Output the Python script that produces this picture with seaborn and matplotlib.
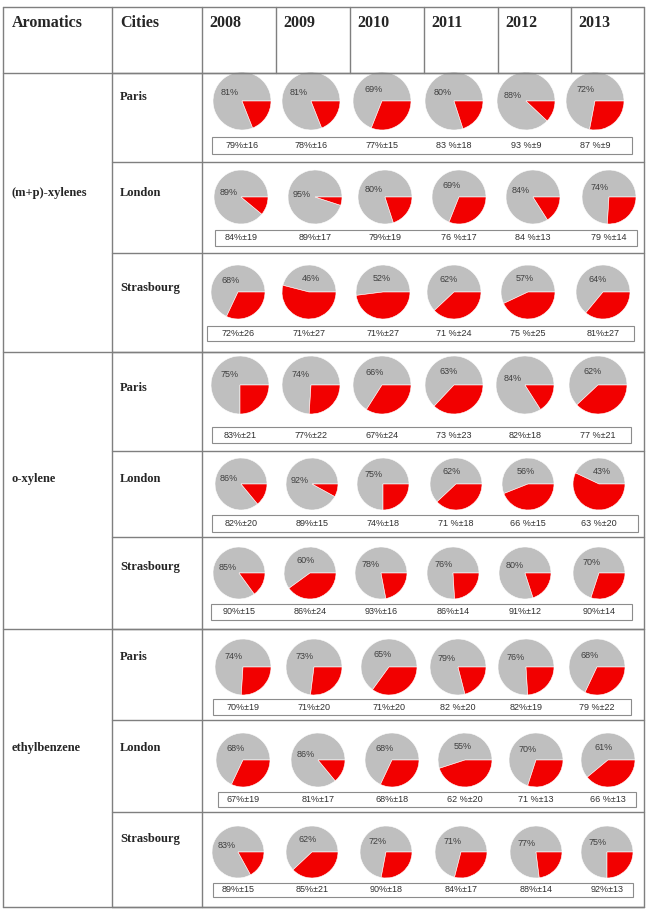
import numpy as np
import matplotlib
matplotlib.use("Agg")
import matplotlib.pyplot as plt
import seaborn as sns
from matplotlib.patches import Rectangle

sns.set_style("white")

# ---------------- data ----------------
compounds = ["(m+p)-xylenes", "o-xylene", "ethylbenzene"]
cities = ["Paris", "London", "Strasbourg"]
years = ["2008", "2009", "2010", "2011", "2012", "2013"]

# grey share (%) shown in each pie, rows ordered compound x city
mp_paris = [81, 81, 69, 80, 88, 72]
mp_london = [89, 95, 80, 69, 84, 74]
mp_stras = [68, 46, 52, 62, 57, 64]
ox_paris = [75, 74, 66, 63, 84, 62]
ox_london = [86, 92, 75, 62, 56, 43]
ox_stras = [85, 60, 78, 76, 80, 70]
eb_paris = [74, 73, 65, 79, 76, 68]
eb_london = [68, 86, 68, 55, 70, 61]
eb_stras = [83, 62, 72, 71, 77, 75]

# mean ± sd labels under each pie row
mp_paris_sd = ["79%±16", "78%±16", "77%±15", "83 %±18", "93 %±9", "87 %±9"]
mp_london_sd = ["84%±19", "89%±17", "79%±19", "76 %±17", "84 %±13", "79 %±14"]
mp_stras_sd = ["72%±26", "71%±27", "71%±27", "71 %±24", "75 %±25", "81%±27"]
ox_paris_sd = ["83%±21", "77%±22", "67%±24", "73 %±23", "82%±18", "77 %±21"]
ox_london_sd = ["82%±20", "89%±15", "74%±18", "71 %±18", "66 %±15", "63 %±20"]
ox_stras_sd = ["90%±15", "86%±24", "93%±16", "86%±14", "91%±12", "90%±14"]
eb_paris_sd = ["70%±19", "71%±20", "71%±20", "82 %±20", "82%±19", "79 %±22"]
eb_london_sd = ["67%±19", "81%±17", "68%±18", "62 %±20", "71 %±13", "66 %±13"]
eb_stras_sd = ["89%±15", "85%±21", "90%±18", "84%±17", "88%±14", "92%±13"]

pie_rows = [mp_paris, mp_london, mp_stras, ox_paris, ox_london, ox_stras,
            eb_paris, eb_london, eb_stras]
sd_rows = [mp_paris_sd, mp_london_sd, mp_stras_sd, ox_paris_sd, ox_london_sd,
           ox_stras_sd, eb_paris_sd, eb_london_sd, eb_stras_sd]

# ---------------- layout (pixel coordinates) ----------------
W, H = 649, 914
X_LEFT, X_C1, X_C2, X_RIGHT = 3, 112, 202, 644
Y_TOP, Y_HEAD = 7, 73
year_x = [202, 276, 350, 424, 498, 571]
row_lines = [73, 162, 253, 352, 451, 537, 629, 720, 812, 907]
group_lines = [73, 352, 629, 907]
city_text_y = [97, 193, 288, 388, 479, 567, 657, 748, 839]
compound_text_y = [193, 479, 748]
# (pie centre y, radius, box top, box bottom, box x0, box x1, pie centre xs)
geo = [
    (101, 29, 137, 154, 212, 632, [242, 311, 382, 454, 526, 595]),
    (197, 27, 230, 246, 215, 637, [241, 315, 385, 459, 533, 609]),
    (292, 27, 326, 341, 207, 634, [238, 309, 383, 454, 528, 603]),
    (385, 29, 427, 443, 212, 631, [240, 311, 382, 454, 525, 598]),
    (484, 26, 515, 532, 212, 638, [241, 312, 383, 456, 528, 599]),
    (573, 26, 604, 620, 211, 632, [239, 310, 381, 453, 525, 599]),
    (667, 28, 699, 715, 213, 631, [243, 314, 389, 458, 526, 597]),
    (760, 27, 792, 807, 218, 636, [243, 318, 392, 465, 536, 608]),
    (852, 26, 883, 897, 213, 633, [238, 312, 386, 461, 536, 607]),
]

GREY = "#BFBFBF"
RED = "#F20000"
LINE = "#7F7F7F"
serif = ["Liberation Serif", "DejaVu Serif"]
sans = ["Liberation Sans", "DejaVu Sans"]

fig = plt.figure(figsize=(W / 100, H / 100), dpi=100)
ax = fig.add_axes([0, 0, 1, 1])

# pies
for r_i, (vals, sds) in enumerate(zip(pie_rows, sd_rows)):
    cy, rad, bt, bb, bx0, bx1, xs = geo[r_i]
    for cx, g, sd in zip(xs, vals, sds):
        ax.pie([g, 100 - g], colors=[GREY, RED], startangle=0,
               counterclock=False, center=(cx, cy), radius=rad, frame=True,
               wedgeprops=dict(edgecolor="white", linewidth=0.4))
        ang = np.deg2rad(-g * 3.6 / 2)
        ax.text(cx + 0.5 * rad * np.cos(ang), cy + 0.5 * rad * np.sin(ang),
                f"{g}%", ha="center", va="center", fontsize=6.5,
                color="#404040", family=sans)
        ax.text(cx, (bt + bb) / 2, sd, ha="center", va="center",
                fontsize=6.5, color="#303030", family=sans)
    ax.add_patch(Rectangle((bx0, bt), bx1 - bx0, bb - bt, fill=False,
                           edgecolor="#8C8C8C", linewidth=0.8))

# grid lines
lw = 1.0
ax.plot([X_LEFT, X_RIGHT], [Y_TOP, Y_TOP], color=LINE, lw=lw)
for y in group_lines:
    ax.plot([X_LEFT, X_RIGHT], [y, y], color=LINE, lw=lw)
for y in row_lines:
    ax.plot([X_C1, X_RIGHT], [y, y], color=LINE, lw=lw)
for x in [X_LEFT, X_C1, X_C2, X_RIGHT]:
    ax.plot([x, x], [Y_TOP, 907], color=LINE, lw=lw)
for x in year_x[1:]:
    ax.plot([x, x], [Y_TOP, Y_HEAD], color=LINE, lw=lw)

# header text
ax.text(12, 23, "Aromatics", fontsize=11.5, fontweight="bold", family=serif,
        va="center", ha="left")
ax.text(120, 23, "Cities", fontsize=11.5, fontweight="bold", family=serif,
        va="center", ha="left")
for x, yr in zip(year_x, years):
    ax.text(x + 7, 23, yr, fontsize=11.5, fontweight="bold", family=serif,
            va="center", ha="left")

# left column labels
for y, comp in zip(compound_text_y, compounds):
    ax.text(12, y, comp, fontsize=9, fontweight="bold", family=serif,
            va="center", ha="left")
for i, y in enumerate(city_text_y):
    ax.text(120, y, cities[i % 3], fontsize=9, fontweight="bold",
            family=serif, va="center", ha="left")

ax.set_xlim(0, W)
ax.set_ylim(H, 0)
ax.set_aspect("auto")
ax.axis("off")
fig.savefig("out.png", dpi=100, facecolor="white")
